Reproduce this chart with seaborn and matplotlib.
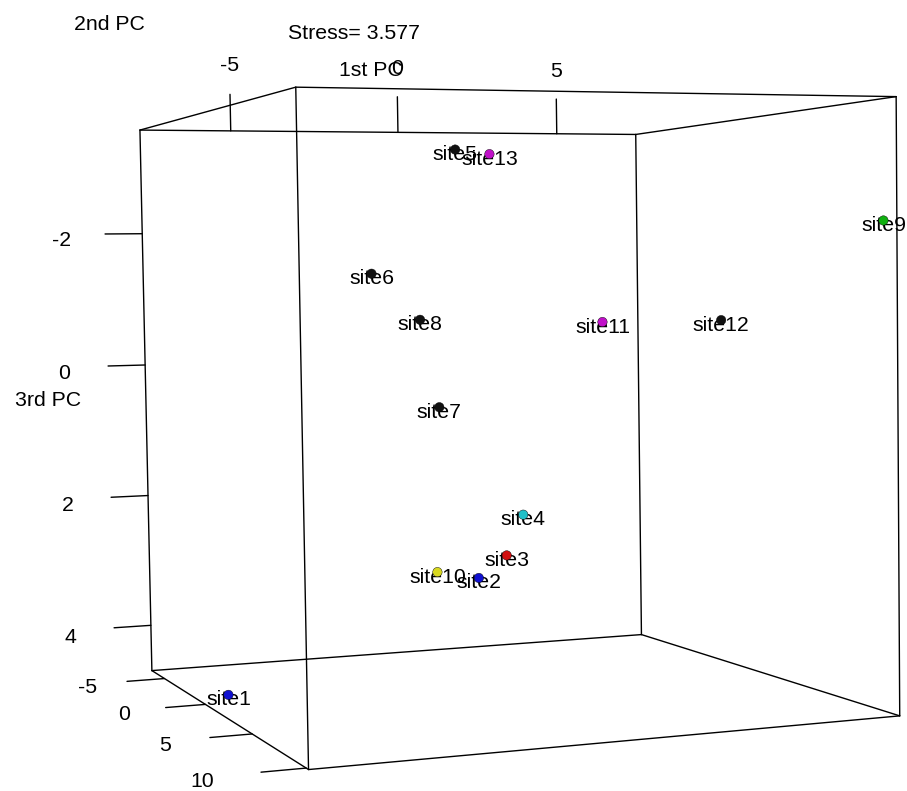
import numpy as np
import matplotlib
matplotlib.use('Agg')
import matplotlib.pyplot as plt
from matplotlib.transforms import offset_copy
import seaborn as sns

# site scores on the three axes
sites = ['site1', 'site2', 'site3', 'site4', 'site5', 'site6', 'site7',
         'site8', 'site9', 'site10', 'site11', 'site12', 'site13']
pc1 = [-6.99, -0.66, -0.22, 0.98, -0.47, -1.98, -1.36, -1.54, 7.42, -1.81, 3.76, 5.58, 0.16]
pc2 = [0.0, 2.0, 3.0, 1.0, 0.0, -3.0, 1.0, 0.0, 9.8, 2.0, 0.0, 4.0, 1.0]
pc3 = [4.59, 3.02, 2.66, 2.20, -3.12, -1.34, 0.59, -0.66, -1.94, 2.90, -0.57, -0.60, -3.03]
site_cols = ['#1010d0', '#1010d0', '#d01010', '#20c0c8', '#111111', '#111111', '#111111',
             '#111111', '#10b010', '#d8d820', '#c010c8', '#111111', '#c010c8']
stress = 3.577

xticks = [-5, 0, 5]
yticks = [-5, 0, 5, 10]
zticks = [-2, 0, 2, 4]
x0, x1 = -7.608, 7.584
y0, y1 = -6.677, 10.199
z0, z1 = -3.571, 4.70

sns.set_style('white')
plt.rcParams['font.family'] = ['Liberation Sans', 'DejaVu Sans']
FS = 15.3

W, H = 907, 791
fig = plt.figure(figsize=(W / 100, H / 100), dpi=100)
ax = fig.add_axes([0, 0, 1, 1], projection='3d')
ax.set_box_aspect((1, 1, 1))
ax.set_axis_off()
ax.computed_zorder = False
ax.set_xlim(x0, x1)
ax.set_ylim(y0, y1)
ax.set_zlim(z0, z1)
ax.view_init(elev=-3.0, azim=111.27, roll=180.83)
ax.set_proj_type('persp', focal_length=0.4601)

# place the square 3d panel so the box centre sits at (496, 405) px, scale k
k, cx, cy = 5253.7, 496.4, 404.9
vl = ax.viewLim
left = cx + vl.x0 * k
bottom = (H - cy) + vl.y0 * k
ax.set_position([left / W, bottom / H, vl.width * k / W, vl.height * k / H])

M = ax.get_proj()


def label(x, y, z, s, tr=None, **kw):
    # project the 3d anchor with the axes' own camera, draw as flat text
    p = M @ np.array([x, y, z, 1.0])
    ax.text2D(p[0] / p[3], p[1] / p[3], s, transform=tr or ax.transData,
              ha='center', va='center', fontsize=FS, color='black', **kw)


# bounding box
c = np.array([[x0, y0, z0], [x0, y1, z0], [x1, y1, z0], [x1, y0, z0],
              [x0, y0, z1], [x0, y1, z1], [x1, y1, z1], [x1, y0, z1]])
edges = [(0, 1), (1, 2), (2, 3), (3, 0), (4, 5), (5, 6), (6, 7), (7, 4),
         (0, 4), (1, 5), (2, 6), (3, 7)]
for a, b in edges:
    ax.plot(*zip(c[a], c[b]), color='k', lw=1)

# axes ticks and labels
tz, tx = 0.56, 1.05
for v in xticks:
    ax.plot([v, v], [y0, y0], [z0, z0 - tz], color='k', lw=1)
    label(v, y0, z0 - 1.0, str(v))
for v in zticks:
    ax.plot([x0, x0 - tx], [y0, y0], [v, v], color='k', lw=1)
    label(x0 - 2.28, y0, v + 0.1, str(v))
for v, off in zip(yticks, [0, 0, 0, 0.25]):
    ax.plot([x0, x0 - tx], [v, v], [z1, z1], color='k', lw=1)
    label(x0 - 2.15 - off, v, z1 + 0.05, str(v))
label(-0.8, y0, z0 - 0.96, '1st PC')
label(-1.3, y0, z0 - 1.53, 'Stress= %.3f' % stress)
label(x0 - 2.76, y0, 0.5, '3rd PC')
label(x0 - 2.42, 1.6, z0 - 1.15, '2nd PC')

# site labels, then the points on top
lab_tr = offset_copy(ax.transData, fig=fig, x=0, y=-5, units='dots')
for name, x, y, z in zip(sites, pc1, pc2, pc3):
    label(x, y, z, name, tr=lab_tr, zorder=2.5)
ax.scatter(pc1, pc2, pc3, c=site_cols, s=46, depthshade=False,
           edgecolors='#000000', linewidths=0.3, zorder=4)

fig.savefig('out.png', dpi=100)
